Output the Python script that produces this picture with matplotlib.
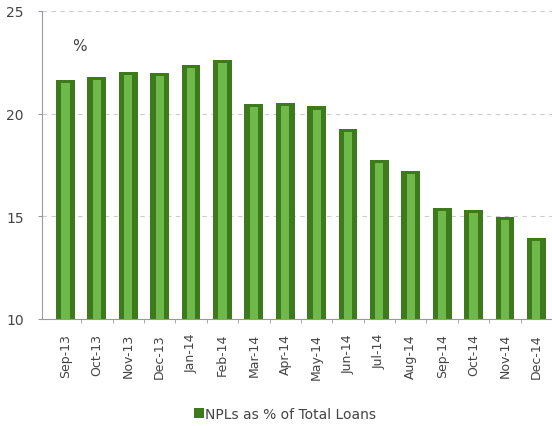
import matplotlib

matplotlib.use("Agg")
import matplotlib.pyplot as plt
import numpy as np
from matplotlib.patches import Patch

months = ["Sep-13", "Oct-13", "Nov-13", "Dec-13", "Jan-14", "Feb-14", "Mar-14", "Apr-14",
          "May-14", "Jun-14", "Jul-14", "Aug-14", "Sep-14", "Oct-14", "Nov-14", "Dec-14"]
npl_ratio = [21.65, 21.8, 22.05, 22.0, 22.35, 22.6, 20.45, 20.5,
             20.35, 19.25, 17.75, 17.2, 15.4, 15.3, 14.95, 13.95]

dark_green = "#3c7a1c"
light_green = "#6fb84a"
text_color = "#444444"

fig = plt.figure(figsize=(5.52, 4.27), dpi=100)
ax = fig.add_axes([0.076, 0.2506, 0.924, 0.7214])

x = np.arange(len(months))
ax.bar(x, np.array(npl_ratio) - 10, bottom=10, width=0.6, color=dark_green, zorder=2)
ax.bar(x, np.array(npl_ratio) - 10.15, bottom=10, width=0.26, color=light_green, zorder=3)

ax.set_ylim(10, 25)
ax.set_xlim(-0.75, 15.5)
ax.set_yticks([10, 15, 20, 25])
ax.yaxis.grid(True, linestyle=(0, (4, 4)), color="#cccccc", linewidth=0.8, zorder=0)

ax.set_xticks(x)
ax.set_xticklabels(months, rotation=90, fontsize=9, color=text_color)
ax.tick_params(axis="x", length=0, pad=10)
ax.set_xticks(x[:-1] + 0.5, minor=True)
ax.tick_params(axis="x", which="minor", length=3, color="#999999")
ax.tick_params(axis="y", labelsize=10, labelcolor=text_color, length=3, color="#999999", pad=10)

for side in ("top", "right"):
    ax.spines[side].set_visible(False)
ax.spines["left"].set_color("#9999aa")
ax.spines["bottom"].set_color("#999999")

ax.text(0.45, 23.3, "%", fontsize=11, color=text_color, ha="center", va="center")

fig.legend(handles=[Patch(facecolor=dark_green, label="NPLs as % of Total Loans")],
           loc="center", bbox_to_anchor=(0.517, 0.028), frameon=False, fontsize=10,
           handlelength=0.7, handleheight=0.7, handletextpad=0.1, labelcolor=text_color)

fig.savefig("out.png", dpi=100)
